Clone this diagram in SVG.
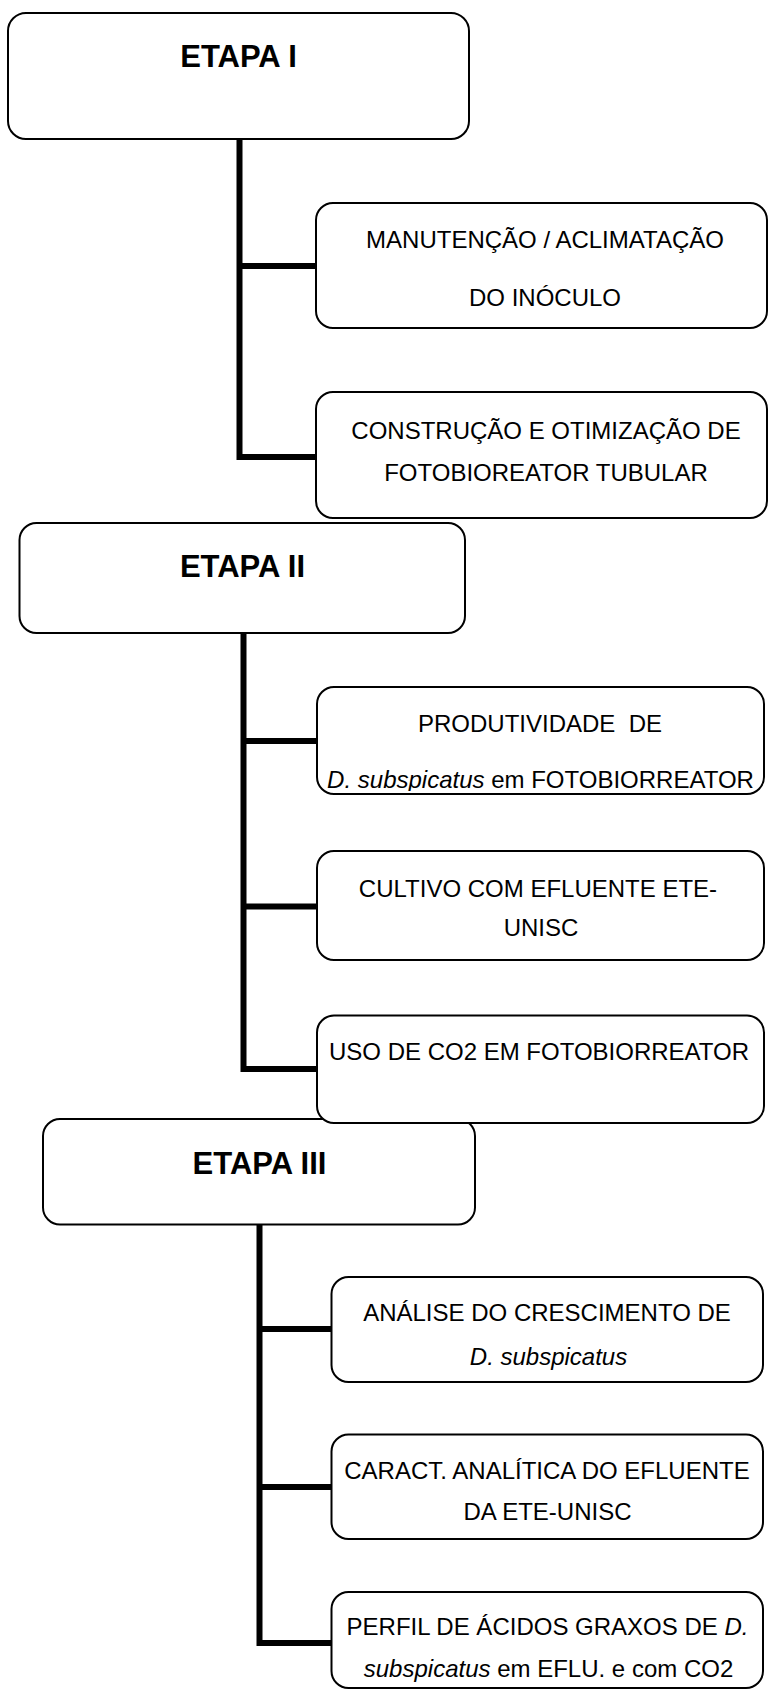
<svg xmlns="http://www.w3.org/2000/svg" width="768" height="1690" viewBox="0 0 768 1690">
<style>
.box{fill:#fff;stroke:#000;stroke-width:2}
.conn{fill:none;stroke:#000;stroke-width:6;stroke-linejoin:miter;stroke-linecap:butt}
.h{font-family:"Liberation Sans",Arial,sans-serif;font-weight:bold;font-size:31px;text-anchor:middle;fill:#000}
.t{font-family:"Liberation Sans",Arial,sans-serif;font-size:24px;text-anchor:middle;fill:#000}
.i{font-style:italic}
</style>
<defs>
<clipPath id="clipProd"><rect x="317" y="687" width="447" height="104"/></clipPath>
</defs>
<rect width="768" height="1690" fill="#fff"/>
<g id="connectors">
<path class="conn" d="M239.5,139 V457 H316 M239.5,266 H316"/>
<path class="conn" d="M243.5,633 V1069 H317 M243.5,741 H317 M243.5,906.5 H317"/>
<path class="conn" d="M259.5,1225 V1643 H332 M259.5,1329 H332 M259.5,1487 H332"/>
</g>
<g id="etapa1">
<rect class="box" x="8" y="13" width="461" height="126" rx="18"/>
<text class="h" x="238.5" y="67">ETAPA I</text>
</g>
<g id="manutencao">
<rect class="box" x="316" y="203" width="451" height="125" rx="17"/>
<text class="t" x="545" y="248">MANUTENÇÃO / ACLIMATAÇÃO</text>
<text class="t" x="545" y="306">DO INÓCULO</text>
</g>
<g id="construcao">
<rect class="box" x="316" y="392" width="451" height="126" rx="17"/>
<text class="t" x="546" y="439">CONSTRUÇÃO E OTIMIZAÇÃO DE</text>
<text class="t" x="546" y="480.5">FOTOBIOREATOR TUBULAR</text>
</g>
<g id="etapa2">
<rect class="box" x="19.5" y="523" width="445.5" height="110" rx="17"/>
<text class="h" x="242.5" y="577">ETAPA II</text>
</g>
<g id="produtividade">
<rect class="box" x="317" y="687" width="447" height="107" rx="17"/>
<text class="t" x="540" y="732" xml:space="preserve">PRODUTIVIDADE  DE</text>
<text class="t" x="540.5" y="788" clip-path="url(#clipProd)"><tspan class="i">D. subspicatus</tspan> em FOTOBIORREATOR</text>
</g>
<g id="cultivo">
<rect class="box" x="317" y="851" width="447" height="109" rx="17"/>
<text class="t" x="538" y="897">CULTIVO COM EFLUENTE ETE-</text>
<text class="t" x="541" y="936">UNISC</text>
</g>
<g id="etapa3">
<rect class="box" x="43" y="1119" width="432" height="105.5" rx="17"/>
<text class="h" x="259.5" y="1174">ETAPA III</text>
</g>
<g id="usoco2">
<rect class="box" x="317" y="1015.5" width="447" height="107.5" rx="17"/>
<text class="t" x="539" y="1059.5">USO DE CO2 EM FOTOBIORREATOR</text>
</g>
<g id="analise">
<rect class="box" x="331.5" y="1277" width="431.5" height="105" rx="17"/>
<text class="t" x="547" y="1321">ANÁLISE DO CRESCIMENTO DE</text>
<text class="t i" x="548.5" y="1364.5">D. subspicatus</text>
</g>
<g id="caract">
<rect class="box" x="331.5" y="1434.5" width="431.5" height="104.5" rx="17"/>
<text class="t" x="547" y="1479">CARACT. ANALÍTICA DO EFLUENTE</text>
<text class="t" x="547.5" y="1520">DA ETE-UNISC</text>
</g>
<g id="perfil">
<rect class="box" x="331.5" y="1592" width="431.5" height="96" rx="17"/>
<text class="t" x="547.5" y="1635">PERFIL DE ÁCIDOS GRAXOS DE <tspan class="i">D.</tspan></text>
<text class="t" x="548.5" y="1677"><tspan class="i">subspicatus</tspan> em EFLU. e com CO2</text>
</g>
</svg>
